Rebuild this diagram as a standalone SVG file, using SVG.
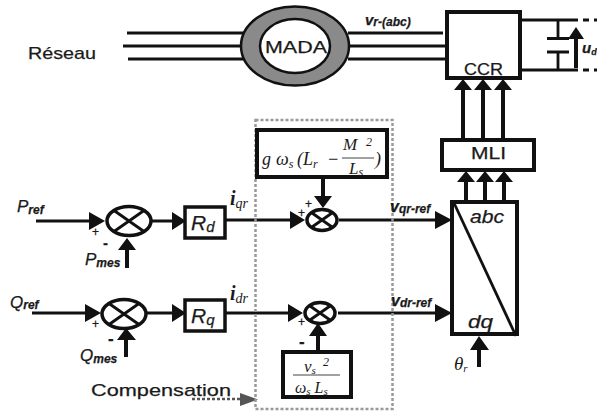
<svg xmlns="http://www.w3.org/2000/svg" width="597" height="412" viewBox="0 0 597 412">
<style>
.l{fill:none;stroke:#111;stroke-width:2.8}
.t{fill:none;stroke:#111;stroke-width:4}
.b{fill:#fff;stroke:#111;stroke-width:3.5}
.h{fill:#111}
.s{font-family:"Liberation Sans",sans-serif;fill:#1a1a1a;stroke:#1a1a1a;stroke-width:.25}
.i{font-family:"Liberation Sans",sans-serif;font-style:italic;fill:#1a1a1a;stroke:#1a1a1a;stroke-width:.25}
.m{font-family:"Liberation Serif",serif;font-style:italic;fill:#1a1a1a}
</style>
<rect width="597" height="412" fill="#fff"/>
<g id="connectors">
<path class="l" d="M127 33H245M123 46H245M128 59H245M348 33H443M348 46H447M348 59H447"/>
<path class="l" d="M521 20H572M521 70H572"/>
<path class="l" d="M572 20H597M572 70H597" stroke-dasharray="6 5"/>
<path class="l" d="M558 20V38M558 52V70"/>
<path class="l" d="M547 38.500H569M547 52H569"/>
<path class="t" d="M576 68V38"/>
<path class="h" d="M576 27L584 39H568Z"/>
<path class="t" d="M463 138V90M483 138V90M503 138V90M466 200V182M485 200V182M504 200V182"/>
<path class="h" d="M463 79L472 90H454ZM483 79L492 90H474ZM503 79L512 90H494ZM466 171L475 182H457ZM485 171L494 182H476ZM504 171L513 182H495Z"/>
<path class="l" d="M36 221H92M152 221H176M225 220H295M339 220H438"/>
<path class="h" d="M89 212L105 221L89 230ZM172 212L186 221L172 230ZM290 211L305 220L290 229ZM435 211L452 220L435 229Z"/>
<path class="l" d="M32 313H90M147 313H176M225 313H292M338 313H438"/>
<path class="h" d="M85 304L101 313L85 322ZM172 304L186 313L172 322ZM288 304L303 313L288 322ZM435 304L452 313L435 322Z"/>
<path class="t" d="M127 268V247M126 357V339M323 177V197M318 352V335M479 367V349"/>
<path class="h" d="M127 238L136 250H118ZM126 328L136 340H117ZM323 208L314 196H332ZM318 323L327 336H309ZM479 336L489 350H470Z"/>
<path d="M192 399H242" fill="none" stroke="#555" stroke-width="2.500" stroke-dasharray="3 2"/>
<path d="M240 393L258 399.500L240 406Z" fill="#555"/>
</g>
<g id="compensation">
<rect x="255.500" y="120" width="137" height="289" fill="none" stroke="#999" stroke-width="2.500" stroke-dasharray="3 2"/>
<text class="s" x="91" y="396" font-size="17" textLength="140" lengthAdjust="spacingAndGlyphs">Compensation</text>
</g>
<g id="reseau"><text class="s" x="28" y="59" font-size="17" textLength="68" lengthAdjust="spacingAndGlyphs">Réseau</text></g>
<g id="mada">
<ellipse cx="295" cy="46" rx="54" ry="39.500" fill="#8a8a8a" stroke="#111" stroke-width="2.500"/>
<ellipse cx="295" cy="46" rx="35" ry="27" fill="#fff" stroke="#111" stroke-width="2.500"/>
<text class="s" x="265" y="53" font-size="17" textLength="62" lengthAdjust="spacingAndGlyphs">MADA</text>
</g>
<g id="vrabc"><text class="i" font-weight="bold" x="365" y="25" font-size="15">v<tspan font-size="12" dy="1">r-(abc)</tspan></text></g>
<g id="ccr">
<rect class="t" x="447" y="12" width="73" height="66"/>
<text class="s" x="464" y="75" font-size="16" textLength="39" lengthAdjust="spacingAndGlyphs">CCR</text>
</g>
<g id="udc"><text class="i" font-weight="bold" x="582" y="53" font-size="15">u<tspan font-size="9" dy="2">d</tspan></text></g>
<g id="mli">
<rect class="t" x="442" y="140" width="92" height="30"/>
<text class="s" x="471" y="159" font-size="17" textLength="35" lengthAdjust="spacingAndGlyphs">MLI</text>
</g>
<g id="transform">
<rect class="t" x="452" y="202" width="65" height="132"/>
<path class="l" d="M454 203L516 336"/>
<text class="i" x="470" y="223" font-size="18" textLength="34" lengthAdjust="spacingAndGlyphs">abc</text>
<text class="i" x="468" y="328" font-size="18" textLength="25" lengthAdjust="spacingAndGlyphs">dq</text>
</g>
<g id="theta"><text class="m" x="454" y="370" font-size="19">θ<tspan font-size="11" dy="2">r</tspan></text></g>
<g id="formula1">
<rect class="t" x="257" y="130" width="130" height="47"/>
<text class="m" x="262" y="165" font-size="18">g</text>
<text class="m" x="276" y="165" font-size="18">ω<tspan font-size="12" dy="3">s</tspan></text>
<text class="m" x="297" y="165" font-size="18">(L<tspan font-size="12" dy="3">r</tspan></text>
<text class="m" x="327" y="165" font-size="18">−</text>
<text class="m" x="343" y="150" font-size="17">M</text><text class="m" x="366" y="146" font-size="12">2</text>
<path d="M342 158H374" stroke="#444" stroke-width="1" fill="none"/>
<text class="m" x="349" y="174" font-size="17">L<tspan font-size="12" dy="2">s</tspan></text>
<text class="m" x="375" y="165" font-size="18">)</text>
</g>
<g id="formula2">
<rect class="t" x="283" y="352" width="68" height="45"/>
<text class="m" x="304" y="372" font-size="17">v<tspan font-size="11" dy="2">s</tspan></text>
<text class="m" x="323" y="366" font-size="12">2</text>
<path d="M293 375H340" stroke="#444" stroke-width="1" fill="none"/>
<text class="m" x="295" y="393" font-size="16">ω<tspan font-size="11" dy="2">s</tspan><tspan dy="-2"> L</tspan><tspan font-size="11" dy="2">s</tspan></text>
</g>
<g id="sum-p">
<ellipse class="b" cx="129" cy="221" rx="22" ry="14.500"/>
<path class="l" d="M114 210.500L144 231.500M144 210.500L114 231.500"/>
</g>
<g id="sum-q">
<ellipse class="b" cx="124" cy="314" rx="22" ry="14.500"/>
<path class="l" d="M109 303.500L139 324.500M139 303.500L109 324.500"/>
</g>
<g id="sum-vq">
<ellipse class="b" cx="322" cy="220" rx="15" ry="10.500"/>
<path class="l" d="M312 213L332 227M332 213L312 227"/>
</g>
<g id="sum-vd">
<ellipse class="b" cx="320" cy="313" rx="15" ry="10.500"/>
<path class="l" d="M310 306L330 320M330 306L310 320"/>
</g>
<g id="rd">
<rect class="b" x="185" y="207" width="40" height="31"/>
<text class="i" x="191" y="230" font-size="21">R<tspan font-size="15" dy="2">d</tspan></text>
</g>
<g id="rq">
<rect class="b" x="185" y="300" width="40" height="31"/>
<text class="i" x="191" y="323" font-size="21">R<tspan font-size="15" dy="2">q</tspan></text>
</g>
<g id="labels">
<text class="i" x="17" y="212" font-size="17">P<tspan font-size="12" font-weight="bold" dy="2">ref</tspan></text>
<text class="i" x="10" y="308" font-size="17">Q<tspan font-size="12" font-weight="bold" dy="1">ref</tspan></text>
<text class="i" x="85" y="265" font-size="17">P<tspan font-size="12" font-weight="bold" dy="2">mes</tspan></text>
<text class="i" x="80" y="361" font-size="17">Q<tspan font-size="12" font-weight="bold" dy="2">mes</tspan></text>
<text class="m" x="230" y="205" font-size="20" font-weight="bold">i<tspan font-size="14" font-weight="normal" dy="3">qr</tspan></text>
<text class="m" x="230" y="300" font-size="20" font-weight="bold">i<tspan font-size="14" font-weight="normal" dy="3">dr</tspan></text>
<text class="i" font-weight="bold" x="390" y="212" font-size="16">v<tspan font-size="12" dy="1">qr-ref</tspan></text>
<text class="i" font-weight="bold" x="391" y="306" font-size="16">v<tspan font-size="12" dy="1">dr-ref</tspan></text>
<text class="s" x="92" y="236" font-size="12">+</text>
<text class="s" x="103" y="248" font-size="15" font-weight="bold">-</text>
<text class="s" x="92" y="328" font-size="12">+</text>
<text class="s" x="108" y="344" font-size="17" font-weight="bold">-</text>
<text class="s" x="298" y="217" font-size="12">+</text>
<text class="s" x="305" y="208" font-size="12">+</text>
<text class="s" x="298" y="326" font-size="12">+</text>
<text class="s" x="299" y="347" font-size="17" font-weight="bold">-</text>
</g>
</svg>
